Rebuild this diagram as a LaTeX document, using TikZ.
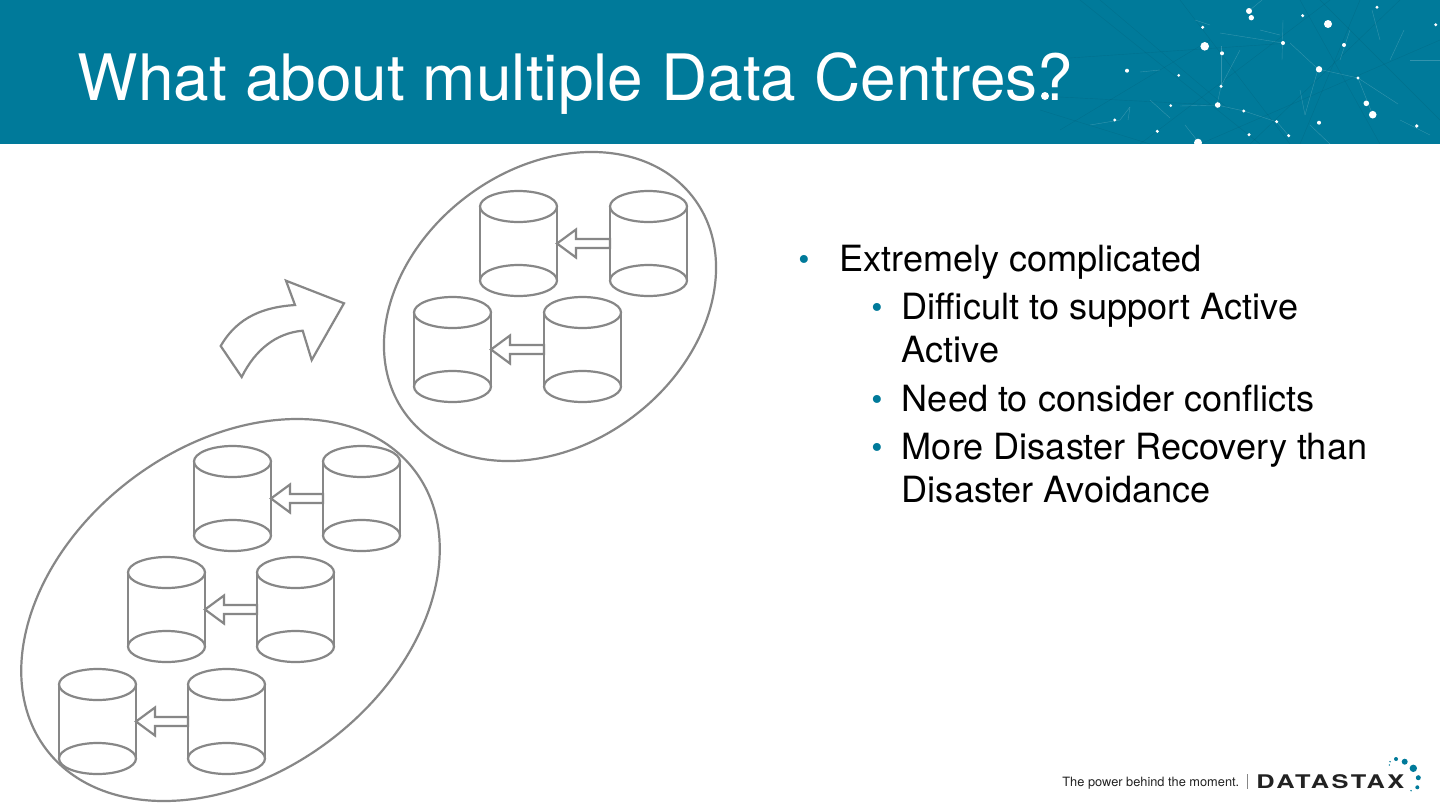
\documentclass[tikz,border=0pt]{standalone}
\usepackage{fontspec}
\setmainfont{TeX Gyre Heros}
\usetikzlibrary{calc}
\definecolor{teal}{HTML}{007A9A}
\definecolor{shapegray}{HTML}{878787}
\definecolor{logoblack}{HTML}{222222}
\tikzset{
  outline/.style={draw=shapegray,line width=1.1pt,fill=none},
  cylbox/.style={minimum width=38.5pt,minimum height=37pt,inner sep=0pt,outer sep=0pt},
  blockarrow/.style={draw=shapegray,line width=1.1pt,fill=white,line join=miter},
  titletext/.style={anchor=base west,inner sep=0pt,text=white,font=\fontsize{32}{40}\selectfont},
  bodytext/.style={anchor=base west,inner sep=0pt,text=black,font=\fontsize{18.05}{22}\selectfont},
  bulletmark/.style={anchor=base,inner sep=0pt,text=teal,font=\fontsize{16}{22}\selectfont},
  star/.style={fill=white},
  web/.style={draw=white,line width=0.2pt,opacity=0.2},
  webdark/.style={draw=black,line width=0.2pt,opacity=0.08}
}
\newcommand{\cyl}[3]{%
  \node[cylbox,anchor=north west] (#1) at (#2,#3+15.5) {};
  \draw[outline] (#2,#3+15.5) -- (#2,#3+89.5);
  \draw[outline] (#2+77,#3+15.5) -- (#2+77,#3+89.5);
  \draw[outline] (#2+38.5,#3+15.5) ellipse [x radius=38.5,y radius=15.5];
  \draw[outline] (#2+38.5,#3+89.5) ellipse [x radius=38.5,y radius=15.5];
}
\newcommand{\arrowbetween}[2]{%
  \draw[blockarrow] (#2.east)
    -- ($(#2.east)+(19,-14)$) -- ($(#2.east)+(19,-4.5)$)
    -- ($(#1.west)+(0,-4.5)$) -- ($(#1.west)+(0,4.5)$)
    -- ($(#2.east)+(19,4.5)$) -- ($(#2.east)+(19,14)$) -- cycle;
}
\begin{document}
\begin{tikzpicture}[x=0.5pt,y=-0.5pt]
\useasboundingbox (0,0) rectangle (1440,810);
\fill[white] (0,0) rectangle (1440,810);
\fill[teal] (0,0) rectangle (1440,144);
\begin{scope}
\clip (1030,0) rectangle (1440,144);
% faint network lines
\foreach \a/\b/\c/\d in {1290/43/1318/69,1282/60/1283/20,1283/43/1220/33,1318/69/1358/78,1221/46/1221/86,1221/86/1217/105,1217/105/1180/106,1217/105/1244/111,1244/111/1277/122,1277/122/1289/136,1221/86/1240/50,1300/90/1305/115,1305/115/1318/69,1358/78/1398/104,1358/78/1372/113,1404/30/1390/60,1120/120/1130/107,1130/107/1128/120,1185/125/1200/144,1160/70/1140/72,1195/20/1210/25,1250/10/1262/0,1372/10/1380/40,1090/125/1120/120,1440/60/1410/60,1340/60/1350/30,1260/30/1280/35,1400/120/1430/135,1150/100/1170/118,1310/125/1330/144}
  \draw[web] (\a,\b) -- (\c,\d);
\foreach \a/\b/\c/\d in {1100/0/1230/110,1180/0/1290/144,1040/60/1290/43,1040/96/1217/105,1060/130/1210/40,1200/144/1440/40,1320/0/1440/120,1250/144/1400/0,1140/144/1330/0,1080/0/1260/144,1040/110/1150/144,1300/0/1380/144,1360/0/1300/144}
  \draw[webdark] (\a,\b) -- (\c,\d);
% star dots
\foreach \a/\b/\r in {1249/11/3,1251.3/17.7/2.7,1202.7/27.3/1.7,1302.7/15.7/1.7,1328/24/4,1377/7.3/1.6,1435.7/24.7/1.6,1204.7/46.3/4.3,1222/53.3/2,1283/43/2,1344/45/2,1319/69.3/3.2,1127/70.7/2,1178.7/75.3/1.5,1358/78/1.7,1221/86.3/1.7,1217.7/105/2.8,1170.7/105.7/1.5,1243.7/111/1.7,1366.3/103.3/2.8,1372.7/114.7/3.8,1114.7/120/1.7,1276.7/121.7/1.7,1319/122.7/2,1416.7/126/1.8,1157.3/131.3/1.7,1249/134.7/1.7,1288.7/135.7/1.7,1198/142.7/4,1045/96/4}
  \fill[star] (\a,\b) circle [radius=\r];
\end{scope}
\node[titletext] (title) at (77.5,100) {What about multiple Data Centres?};
% ellipses
\draw[outline] (550,306.5) ellipse [x radius=180,y radius=138,rotate=37];
\draw[outline] (230.5,610) ellipse [x radius=231,y radius=164,rotate=37];
% curved arrow
\draw[outline,line join=miter] (220.7,346) .. controls (238,316) and (265,307) .. (295,305)
  -- (286,280.7) -- (344,303.3) -- (311.7,360) -- (302.7,330.7)
  .. controls (276,333) and (255,350) .. (241.7,377) -- cycle;
% cylinders
\cyl{a1}{480}{191}\cyl{a2}{610}{191}
\cyl{b1}{414}{297}\cyl{b2}{544}{297}
\cyl{c1}{194}{446}\cyl{c2}{323}{446}
\cyl{d1}{128}{557}\cyl{d2}{257}{557}
\cyl{e1}{59}{669}\cyl{e2}{188}{669}
\arrowbetween{a2}{a1}
\arrowbetween{b2}{b1}
\arrowbetween{c2}{c1}
\arrowbetween{d2}{d1}
\arrowbetween{e2}{e1}
% bullets
\node[bulletmark] (m1) at (804,270) {•};
\node[bodytext] (t1) at (839,271.5) {Extremely complicated};
\node[bulletmark] (m2) at (877,318) {•};
\node[bodytext] (t2) at (901.5,319) {Difficult to support Active};
\node[bodytext] (t2b) at (901.5,362) {Active};
\node[bulletmark] (m3) at (877,410) {•};
\node[bodytext] (t3) at (901.5,411) {Need to consider conflicts};
\node[bulletmark] (m4) at (877,458) {•};
\node[bodytext] (t4) at (901.5,459) {More Disaster Recovery than};
\node[bodytext] (t4b) at (901.5,502) {Disaster Avoidance};
% logo
\node[anchor=base west,inner sep=0pt,text=logoblack,font=\fontsize{6.4}{8}\selectfont] (tag) at (1062,786) {The power behind the moment.};
\draw[shapegray,line width=0.3pt] (1247.5,774) -- (1247.5,789);
\node[anchor=base west,inner sep=0pt,text=logoblack,font=\fontsize{9.4}{11}\selectfont\bfseries\addfontfeature{FakeStretch=1.35,LetterSpace=13}] (logo) at (1256,788.5) {DATASTAX};
\foreach \a/\b/\r in {1413.3/768.3/3.7,1404.7/761.7/3,1396/759/2,1390/761.7/.8,1389.3/765/.8,1418.3/777.7/2.5,1417.3/787.3/2,1411/790.7/.8}
  \fill[teal] (\a,\b) circle [radius=\r];
\end{tikzpicture}
\end{document}
